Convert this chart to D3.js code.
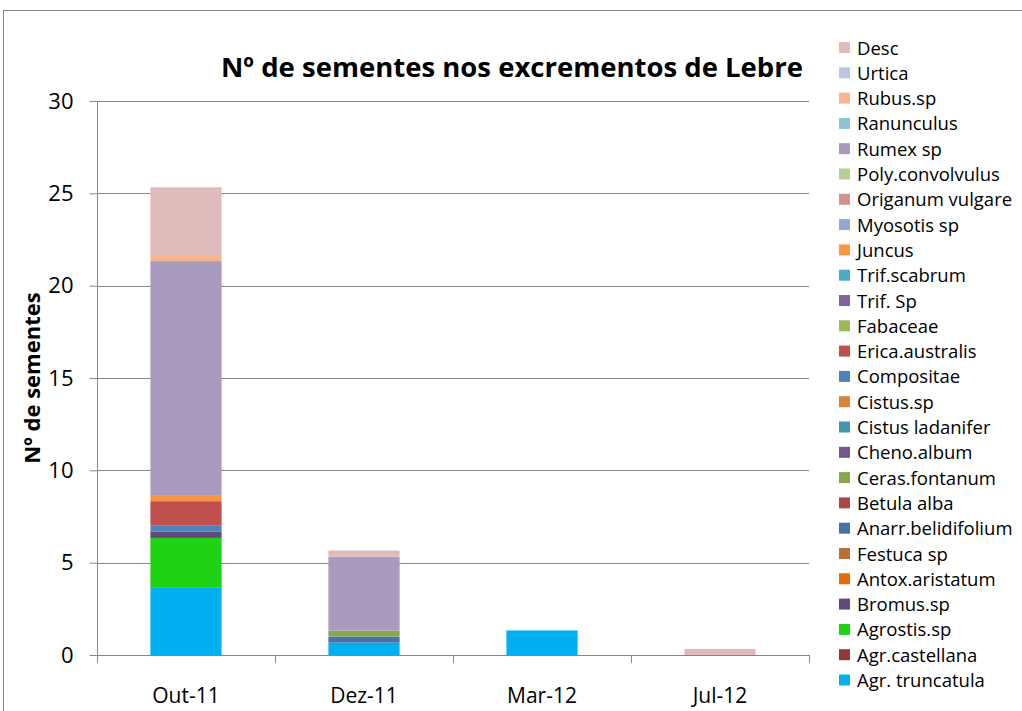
<!DOCTYPE html>
<html>
<head>
<meta charset="utf-8">
<script src="https://cdn.jsdelivr.net/npm/d3@7"></script>
<style>
  body { margin: 0; background: #fff; }
  svg { font-family: "Open Sans", sans-serif; }
</style>
</head>
<body>
<div id="graph"></div>
<script>
// DONNEES
let categories = ['Out-11', 'Dez-11', 'Mar-12', 'Jul-12'];

// series de bas en haut
let series = ['Agr. truncatula', 'Agr.castellana', 'Agrostis.sp', 'Bromus.sp', 'Antox.aristatum',
    'Festuca sp', 'Anarr.belidifolium', 'Betula alba', 'Ceras.fontanum', 'Cheno.album',
    'Cistus ladanifer', 'Cistus.sp', 'Compositae', 'Erica.australis', 'Fabaceae',
    'Trif. Sp', 'Trif.scabrum', 'Juncus', 'Myosotis sp', 'Origanum vulgare',
    'Poly.convolvulus', 'Rumex sp', 'Ranunculus', 'Rubus.sp', 'Urtica', 'Desc'];

let colors = ['#00b0f0', '#953735', '#1ed214', '#604a7b', '#e46c0a',
    '#b7703a', '#4572a7', '#aa4643', '#89a54e', '#71588f',
    '#4198af', '#db843d', '#4f81bd', '#c0504d', '#9bbb59',
    '#8064a2', '#4bacc6', '#f79646', '#93a9cf', '#d19392',
    '#b9cd96', '#a99bbd', '#91c3d5', '#f9b590', '#b9c7e2', '#e0bbbb'];

// valeurs par serie : [Out-11, Dez-11, Mar-12, Jul-12]
let values = [
    [3.67, 0.67, 1.33, 0],   // Agr. truncatula
    [0, 0, 0, 0],            // Agr.castellana
    [2.67, 0, 0, 0],         // Agrostis.sp
    [0.33, 0, 0, 0],         // Bromus.sp
    [0, 0, 0, 0],            // Antox.aristatum
    [0, 0, 0, 0],            // Festuca sp
    [0, 0.33, 0, 0],         // Anarr.belidifolium
    [0, 0, 0, 0],            // Betula alba
    [0, 0.33, 0, 0],         // Ceras.fontanum
    [0, 0, 0, 0],            // Cheno.album
    [0, 0, 0, 0],            // Cistus ladanifer
    [0, 0, 0, 0],            // Cistus.sp
    [0.33, 0, 0, 0],         // Compositae
    [1.33, 0, 0, 0],         // Erica.australis
    [0, 0, 0, 0],            // Fabaceae
    [0, 0, 0, 0],            // Trif. Sp
    [0, 0, 0, 0],            // Trif.scabrum
    [0.33, 0, 0, 0],         // Juncus
    [0, 0, 0, 0],            // Myosotis sp
    [0, 0, 0, 0],            // Origanum vulgare
    [0, 0, 0, 0],            // Poly.convolvulus
    [12.67, 4, 0, 0],        // Rumex sp
    [0, 0, 0, 0],            // Ranunculus
    [0.33, 0, 0, 0],         // Rubus.sp
    [0, 0, 0, 0],            // Urtica
    [3.67, 0.33, 0, 0.33]    // Desc
];

let yTicks = [0, 5, 10, 15, 20, 25, 30];

// CREATION DU GRAPHE
let width = 1022, height = 711;
let plot = {left: 97, right: 809, top: 101, bottom: 655};
let gris = '#868686';

let svg = d3.select('#graph').append('svg')
    .attr('width', width)
    .attr('height', height);

// cadre du graphique
svg.append('rect')
    .attr('x', 3.5).attr('y', 10.5)
    .attr('width', 1040).attr('height', 720)
    .attr('fill', '#fff')
    .attr('stroke', gris)
    .attr('stroke-width', 1);

let table = categories.map(function(c, i) {
    let row = {cat: c};
    series.forEach(function(s, j) { row[s] = values[j][i]; });
    return row;
});

let x = d3.scaleBand()
    .domain(categories)
    .range([plot.left, plot.right])
    .paddingInner(0.6)
    .paddingOuter(0.3);

let y = d3.scaleLinear()
    .domain([0, 30])
    .range([plot.bottom, plot.top]);

let color = d3.scaleOrdinal().domain(series).range(colors);

// grille
svg.append('g')
    .selectAll('line')
    .data(yTicks.slice(1))
    .join('line')
    .attr('x1', plot.left).attr('x2', plot.right)
    .attr('y1', d => Math.round(y(d)) + 0.5).attr('y2', d => Math.round(y(d)) + 0.5)
    .attr('stroke', gris)
    .attr('stroke-width', 1);

// barres empilees
let stack = d3.stack().keys(series)(table);

svg.append('g')
    .selectAll('g')
    .data(stack)
    .join('g')
    .attr('fill', d => color(d.key))
    .selectAll('rect')
    .data(d => d.filter(p => p[1] - p[0] > 0))
    .join('rect')
    .attr('x', d => x(d.data.cat))
    .attr('width', x.bandwidth())
    .attr('y', d => y(d[1]))
    .attr('height', d => y(d[0]) - y(d[1]));

// axe Y
let yAxis = svg.append('g')
    .attr('transform', 'translate(' + (plot.left + 0.5) + ',0)')
    .call(d3.axisLeft(y).tickValues(yTicks).tickSize(8).tickPadding(16));
yAxis.select('.domain').attr('stroke', gris).attr('d', 'M0,' + plot.top + 'V' + (plot.bottom + 5));
yAxis.selectAll('.tick line').attr('stroke', gris);
yAxis.selectAll('.tick text')
    .attr('font-size', 22)
    .attr('font-family', '"Open Sans", sans-serif')
    .attr('fill', '#000');

// axe X
let xTickPos = d3.range(categories.length + 1).map(i => plot.left + i * (plot.right - plot.left) / categories.length);
svg.append('line')
    .attr('x1', plot.left).attr('x2', plot.right)
    .attr('y1', plot.bottom + 0.5).attr('y2', plot.bottom + 0.5)
    .attr('stroke', gris);
svg.append('g')
    .selectAll('line')
    .data(xTickPos)
    .join('line')
    .attr('x1', d => Math.round(d) + 0.5).attr('x2', d => Math.round(d) + 0.5)
    .attr('y1', plot.bottom).attr('y2', plot.bottom + 8)
    .attr('stroke', gris);
svg.append('g')
    .selectAll('text')
    .data(categories)
    .join('text')
    .attr('x', d => x(d) + x.bandwidth() / 2)
    .attr('y', 703)
    .attr('text-anchor', 'middle')
    .attr('font-size', 21)
    .text(d => d);

// titres
svg.append('text')
    .attr('x', 512)
    .attr('y', 77)
    .attr('text-anchor', 'middle')
    .attr('font-size', 27.5)
    .attr('font-weight', 'bold')
    .text('Nº de sementes nos excrementos de Lebre');

svg.append('text')
    .attr('transform', 'translate(40,378) rotate(-90)')
    .attr('text-anchor', 'middle')
    .attr('font-size', 22)
    .attr('font-weight', 'bold')
    .text('Nº de sementes');

// legende (ordre inverse)
let legend = svg.append('g')
    .selectAll('g')
    .data(series.slice().reverse())
    .join('g')
    .attr('transform', (d, i) => 'translate(839,' + (48 + i * 25.3) + ')');

legend.append('rect')
    .attr('x', 0).attr('y', -6)
    .attr('width', 11).attr('height', 11)
    .attr('fill', d => color(d));

legend.append('text')
    .attr('x', 18)
    .attr('y', 6.5)
    .attr('font-size', 18.5)
    .text(d => d);
</script>
</body>
</html>
